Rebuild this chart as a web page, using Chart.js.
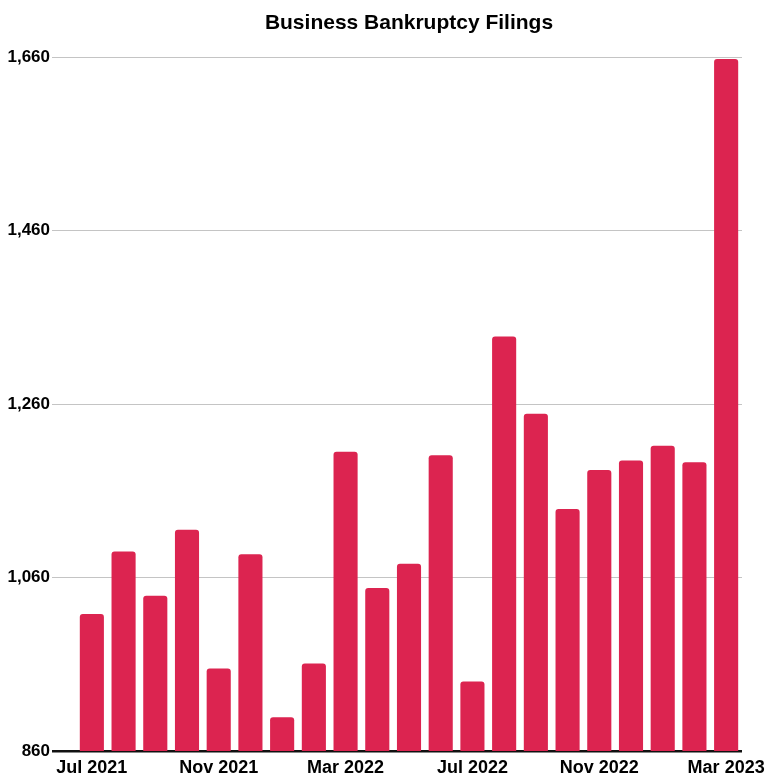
<!DOCTYPE html>
<html>
<head>
<meta charset="utf-8">
<title>Business Bankruptcy Filings</title>
<script src="https://cdn.jsdelivr.net/npm/chart.js@4"></script>
<style>
  html, body { margin: 0; padding: 0; background: #fff; }
  #wrap { width: 767px; height: 778px; }
</style>
</head>
<body>
<div id="wrap"><canvas id="filingsChart"></canvas></div>
<script>
// monthly filings, Jul 2021 - Mar 2023
const months = ['Jul 2021', 'Aug 2021', 'Sep 2021', 'Oct 2021', 'Nov 2021', 'Dec 2021',
                'Jan 2022', 'Feb 2022', 'Mar 2022', 'Apr 2022', 'May 2022', 'Jun 2022',
                'Jul 2022', 'Aug 2022', 'Sep 2022', 'Oct 2022', 'Nov 2022', 'Dec 2022',
                'Jan 2023', 'Feb 2023', 'Mar 2023'];
const filings = [1018, 1090, 1039, 1115, 955, 1087,
                 899, 961, 1205, 1048, 1076, 1201,
                 940, 1338, 1249, 1139, 1184, 1195,
                 1212, 1193, 1658];
const yTicks = [860, 1060, 1260, 1460, 1660];

const barColor = '#dc2450';
const fontFamily = '"Liberation Sans", Arial, sans-serif';

const ctx = document.getElementById('filingsChart').getContext('2d');

new Chart(ctx, {
    type: 'bar',
    data: {
        labels: months,
        datasets: [{
            label: 'Business Bankruptcy Filings',
            data: filings,
            backgroundColor: barColor,
            borderRadius: 3,
            categoryPercentage: 1.0,
            barPercentage: 0.76
        }]
    },
    options: {
        responsive: true,
        maintainAspectRatio: false,
        animation: false,
        layout: { padding: { top: 0, right: 25, bottom: 0, left: 0 } },
        plugins: {
            legend: { display: false },
            tooltip: { enabled: false },
            title: {
                display: true,
                text: 'Business Bankruptcy Filings',
                fullSize: false,
                color: '#000',
                font: { family: fontFamily, size: 21, weight: 'bold' },
                padding: { top: 11, bottom: 21 }
            }
        },
        scales: {
            x: {
                grid: { display: false, drawTicks: false },
                border: { display: false },
                afterFit: function(scale) {
                    // keep the plot edge fixed, the last label may overhang
                    scale.height = 27;
                    scale.paddingLeft = 0;
                    scale.paddingRight = 0;
                },
                ticks: {
                    autoSkip: false,
                    maxRotation: 0,
                    padding: 6,
                    color: '#000',
                    font: { family: fontFamily, size: 18, weight: 'bold' },
                    // only every fourth month is labelled
                    callback: function(value, index) {
                        return index % 4 === 0 ? months[index] : '';
                    }
                }
            },
            y: {
                min: yTicks[0],
                max: yTicks[yTicks.length - 1],
                afterBuildTicks: function(scale) {
                    scale.ticks = yTicks.map(v => ({ value: v }));
                },
                afterFit: function(scale) {
                    scale.width = 76;
                },
                border: { display: false },
                grid: {
                    drawTicks: true,
                    tickLength: 24,
                    color: c => c.tick && c.tick.value === 860 ? '#111' : '#c4c4c4',
                    lineWidth: c => c.tick && c.tick.value === 860 ? 2.5 : 1
                },
                ticks: {
                    padding: 2,
                    color: '#000',
                    font: { family: fontFamily, size: 17, weight: 'bold' },
                    callback: value => value.toLocaleString('en-US')
                }
            }
        }
    }
});
</script>
</body>
</html>
